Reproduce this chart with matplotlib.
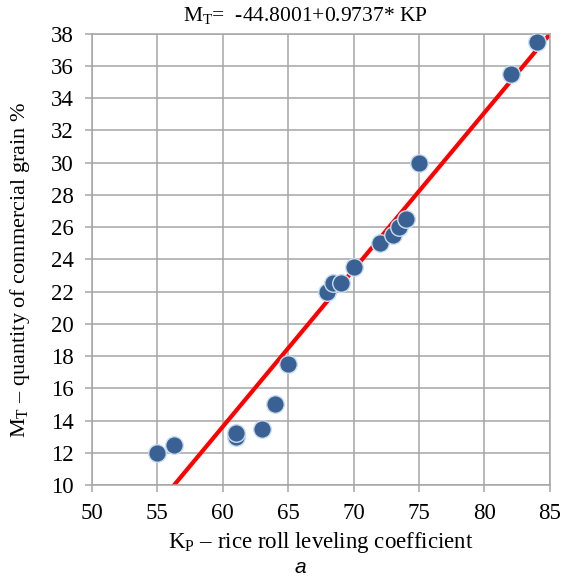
import numpy as np
import matplotlib
matplotlib.use('Agg')
import matplotlib.pyplot as plt

# measured points: rice roll leveling coefficient vs commercial grain %
kp = [55, 56.3, 61, 61, 63, 64, 65, 68, 68.4, 69, 70, 72, 73, 73.5, 74, 75, 82, 84]
mt = [12, 12.5, 13.0, 13.2, 13.5, 15, 17.5, 22, 22.5, 22.5, 23.5, 25, 25.5, 26, 26.5, 30, 35.5, 37.5]

# regression coefficients
intercept = -44.8001
slope = 0.9737

x_ticks = [50, 55, 60, 65, 70, 75, 80, 85]
y_ticks = [10, 12, 14, 16, 18, 20, 22, 24, 26, 28, 30, 32, 34, 36, 38]

plt.rcParams['font.family'] = ['Liberation Serif', 'DejaVu Serif']
plt.rcParams['mathtext.fontset'] = 'custom'
plt.rcParams['mathtext.rm'] = 'Liberation Serif'
plt.rcParams['mathtext.it'] = 'Liberation Serif:italic'

fig = plt.figure(figsize=(5.66, 5.83), dpi=100)
ax = fig.add_axes([0.1625, 0.168, 0.809, 0.7745])

grid_col = '#a6a6a6'
ax.set_axisbelow(True)
ax.grid(True, color=grid_col, linewidth=1.1)

# regression line over the axis range
xl = np.array([50, 85])
ax.plot(xl, intercept + slope * xl, color='#ff0000', linewidth=3.0, zorder=2)

ax.scatter(kp, mt, s=160, color='#3a6193', edgecolors='#c9ddf0', linewidths=1.0, zorder=3)

ax.set_xlim(50, 85)
ax.set_ylim(10, 38)
ax.set_xticks(x_ticks)
ax.set_yticks(y_ticks)
ax.tick_params(labelsize=16.5, color=grid_col, length=5, width=1.1)
ax.tick_params(axis='y', pad=8)
ax.tick_params(axis='x', pad=8)
for s in ax.spines.values():
    s.set_color(grid_col)
    s.set_linewidth(1.1)

fig.text(0.539, 0.974, r'M$_\mathrm{T}$=  -44.8001+0.9737* KP', fontsize=15.5,
         ha='center', va='center')
ax.set_xlabel(r'K$_\mathrm{P}$ – rice roll leveling coefficient', fontsize=16.5, labelpad=4)
ax.set_ylabel(r'M$_\mathrm{T}$ – quantity of commercial grain %', fontsize=16)
ax.yaxis.set_label_coords(-0.131, 0.476)

fig.text(0.53, 0.027, 'a', fontsize=15, style='italic', family='Liberation Sans',
         ha='center', va='center')

fig.savefig('out.png', dpi=100)
